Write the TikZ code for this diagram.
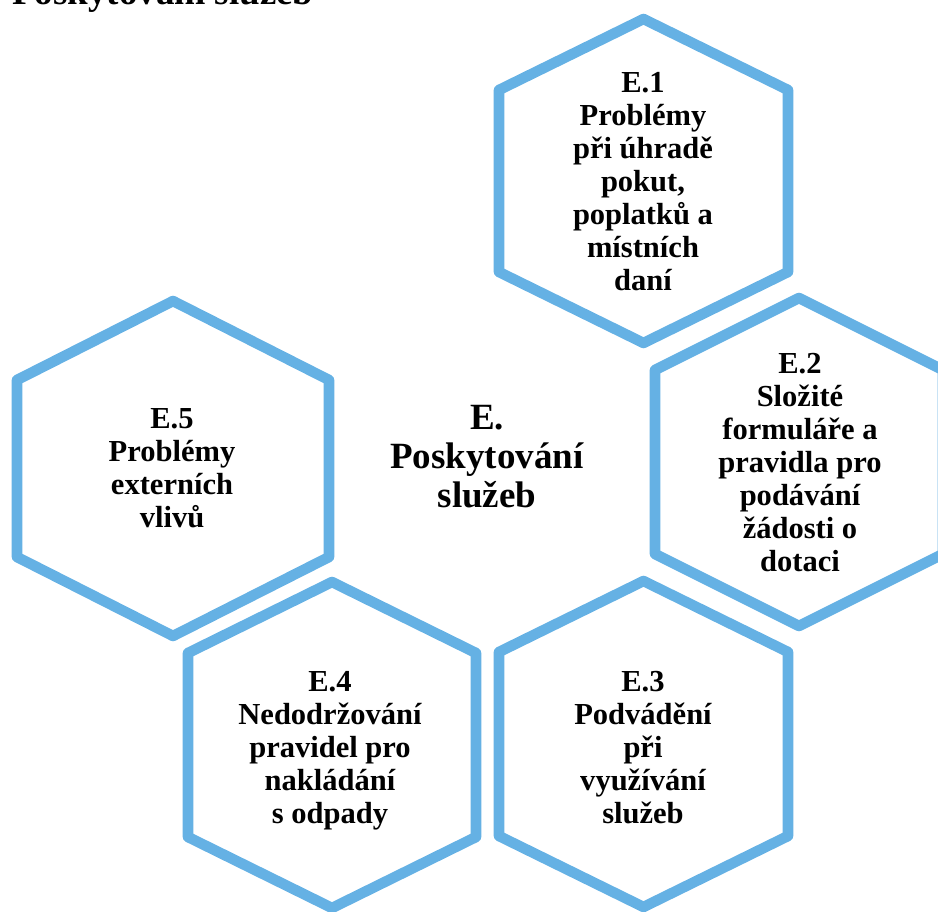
\documentclass[tikz,border=0pt]{standalone}
\usepackage{fontspec}
\setmainfont{Liberation Serif}
\usepackage{xcolor}
\usepackage{tikz}
\definecolor{HexBlue}{HTML}{65B1E4}
\definecolor{HexInk}{HTML}{000000}

\begin{document}
\begin{tikzpicture}[x=0.75pt,y=-0.75pt,
    hexline/.style={draw=HexBlue,line width=7.9pt,line join=round},
    celltext/.style={align=center,inner sep=0pt,HexInk,
      font=\fontsize{22.9}{24.75}\selectfont\bfseries},
    hubtext/.style={align=center,inner sep=0pt,HexInk,
      font=\fontsize{27.75}{29.25}\selectfont\bfseries}]
  \useasboundingbox (0,0) rectangle (938,912);
  % hexagons: centre x / centre y / half width / half height / tip
  \foreach \cx/\cy/\hw/\hh/\tp in {643.5/181/144.5/162/71,
      799/462/144/164/72, 643.5/744/144.5/163/71,
      332/745/144/163/71, 173/468.5/156/167.5/79}
    \draw[hexline] (\cx-\hw,\cy-\hh+\tp) -- (\cx,\cy-\hh)
      -- (\cx+\hw,\cy-\hh+\tp) -- (\cx+\hw,\cy+\hh-\tp)
      -- (\cx,\cy+\hh) -- (\cx-\hw,\cy+\hh-\tp) -- cycle;
  \node[hubtext,anchor=base west] (title) at (12,5) {Poskytování služeb};
  \node[hubtext] (hub) at (487,457) {E.\\Poskytování\\služeb};
  \node[celltext] (e1) at (643,181.5)
    {E.1\\Problémy\\při úhradě\\pokut,\\poplatků a\\místních\\daní};
  \node[celltext] (e2) at (800,463)
    {E.2\\Složité\\formuláře a\\pravidla pro\\podávání\\žádosti o\\dotaci};
  \node[celltext] (e3) at (643,747.5)
    {E.3\\Podvádění\\při\\využívání\\služeb};
  \node[celltext] (e4) at (330,751)
    {E.4\\Nedodržování\\pravidel pro\\nakládání\\s odpady};
  \node[celltext] (e5) at (172,468)
    {E.5\\Problémy\\externích\\vlivů};
\end{tikzpicture}
\end{document}
